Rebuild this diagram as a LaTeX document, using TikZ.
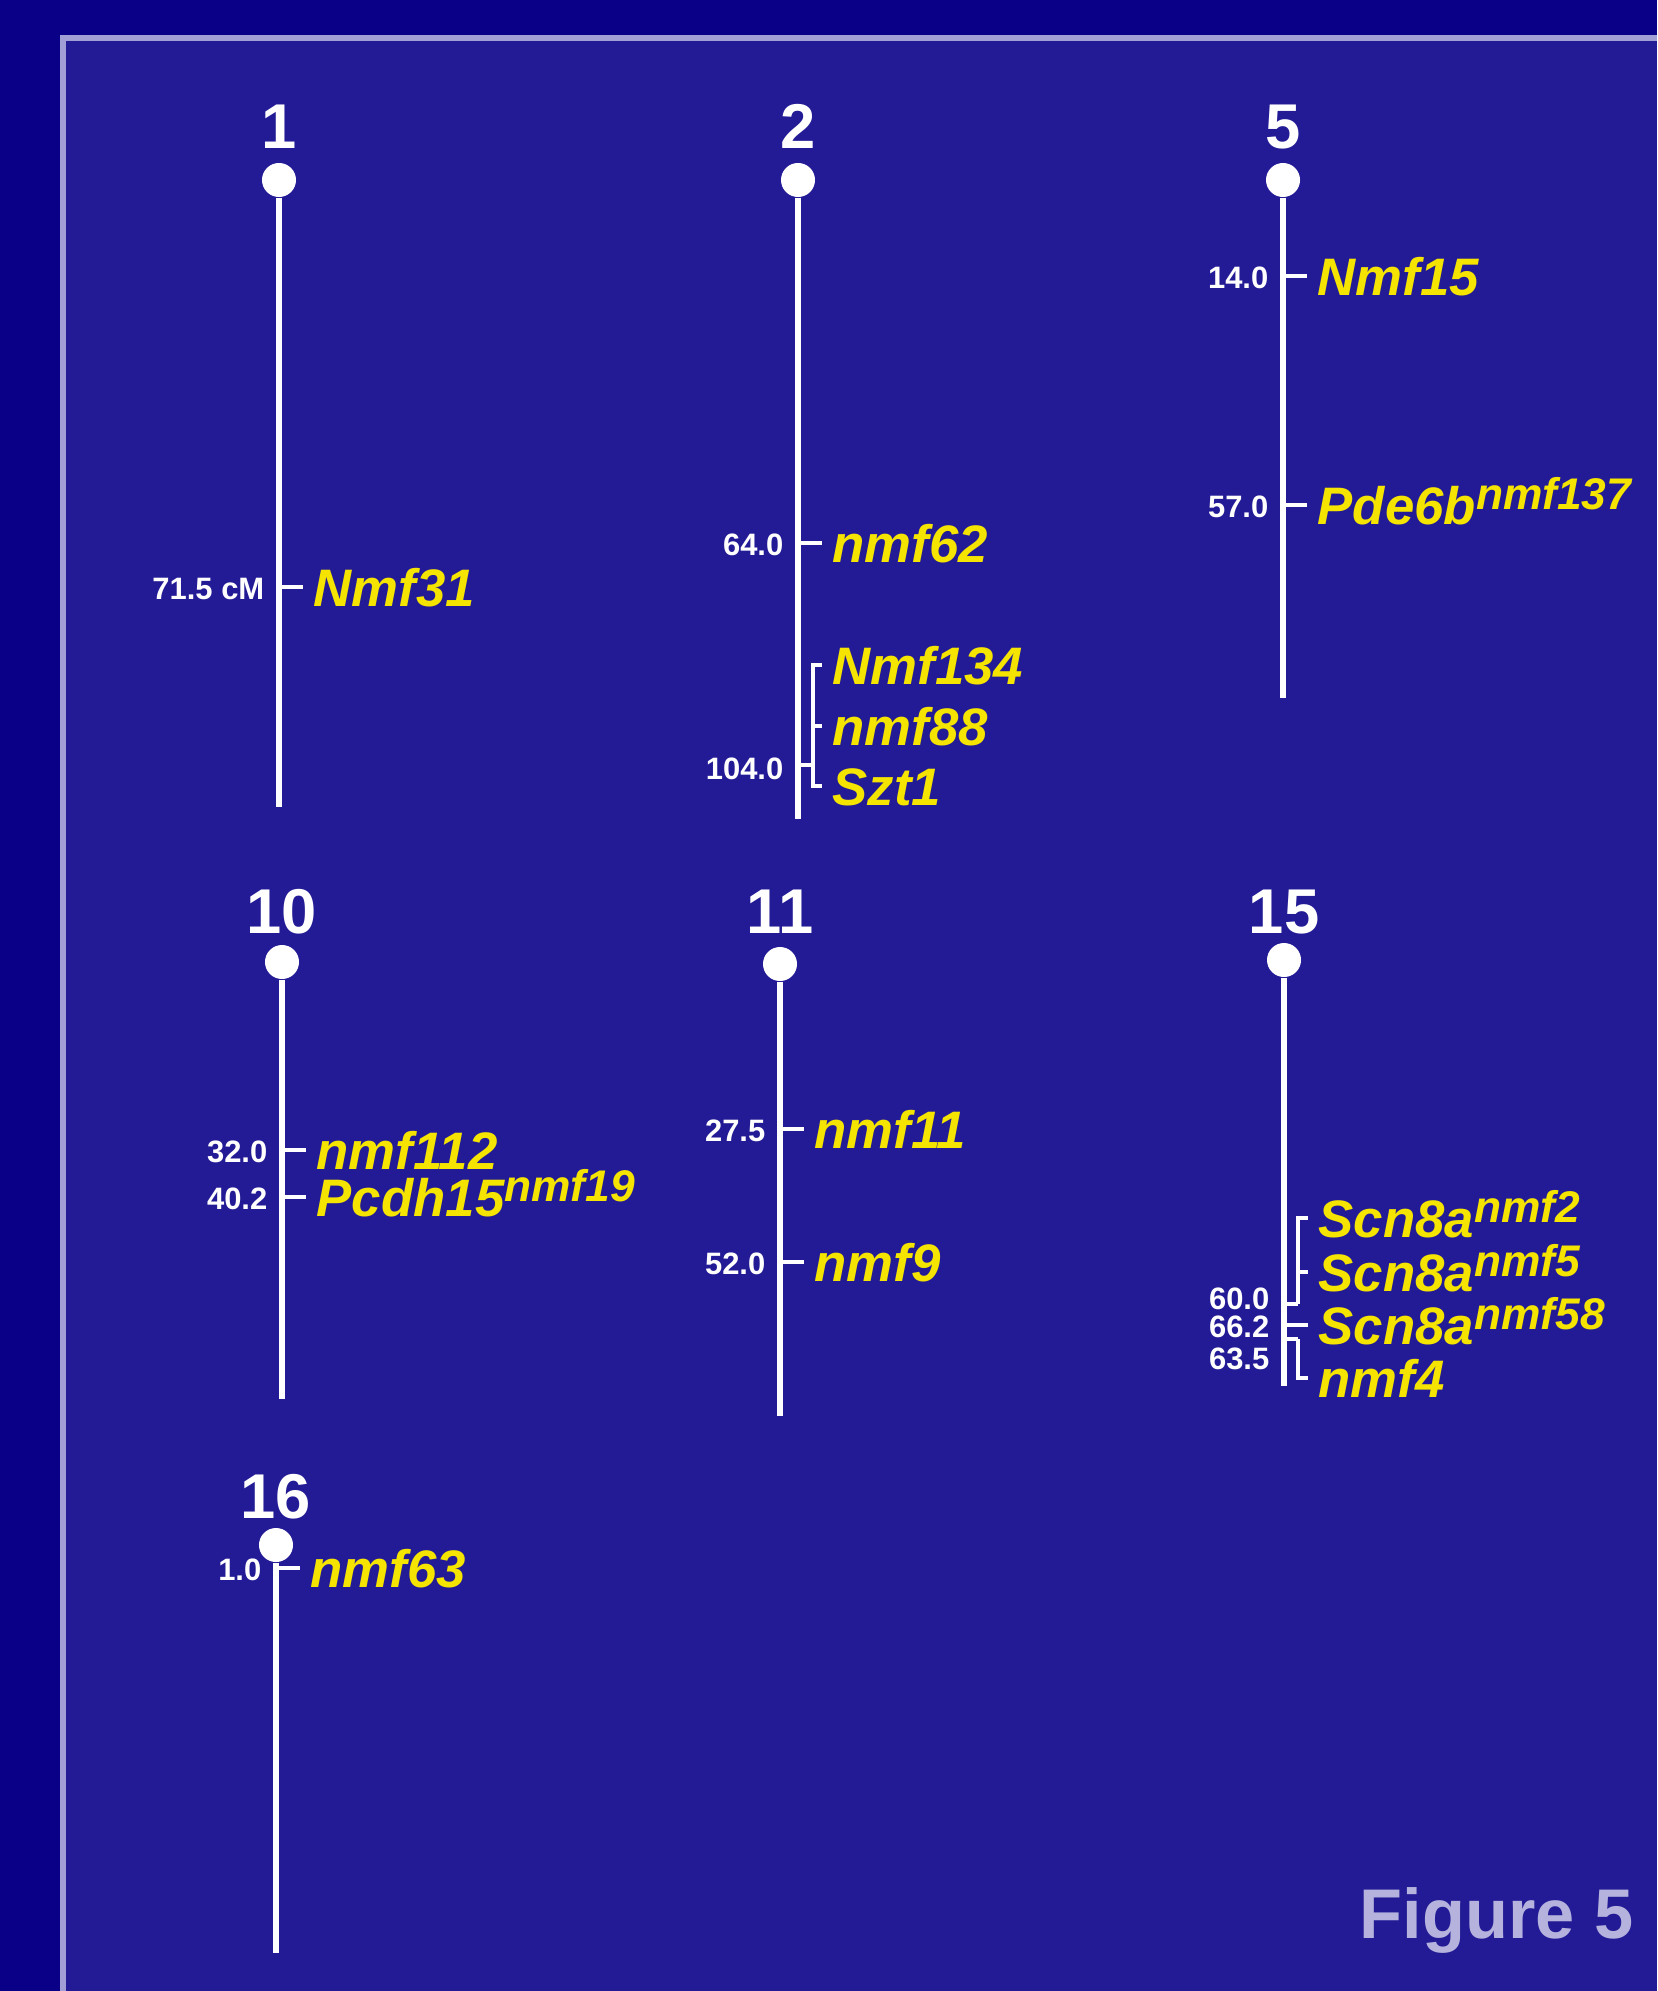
\documentclass[tikz,border=0pt]{standalone}
\usepackage{fontspec}
\setmainfont{Liberation Sans}
\usepackage{tikz}
\usetikzlibrary{calc}
\definecolor{MapNavy}{HTML}{0A0088}
\definecolor{MapPanel}{HTML}{231B95}
\definecolor{MapFrame}{HTML}{A29ED6}
\definecolor{MapYellow}{HTML}{F5E400}
\definecolor{MapLilac}{HTML}{B5B2DD}
\newcommand{\allele}[1]{\raisebox{0.145cm}{\fontsize{12.6}{14}\selectfont #1}}

\begin{document}
\begin{tikzpicture}[x=0.01cm,y=-0.01cm,
		chrline/.style={white,line width=1.85pt},
		cen/.style={circle,fill=white,inner sep=0pt,minimum size=0.34cm},
		chrnum/.style={anchor=base,inner sep=0pt,text=white,font=\fontsize{18}{21}\selectfont\bfseries},
		tick/.style={white,line width=1.1pt},
		brk/.style={white,line width=0.95pt},
		gene/.style={anchor=base west,inner xsep=0.1cm,inner ysep=0pt,text=MapYellow,font=\fontsize{15}{17}\selectfont\bfseries\itshape},
		cmpos/.style={anchor=base east,inner xsep=0.14cm,inner ysep=0pt,text=white,font=\fontsize{8.8}{10}\selectfont\bfseries}]
		\useasboundingbox[fill=MapNavy] (0,0) rectangle (1657,1991);
		\fill[MapPanel] (63,38) rectangle (1657,1991);
		\draw[MapFrame,line width=1.7pt] (63,1991) -- (63,38) -- (1657,38);

		\foreach \c/\x/\ynum/\ytop/\ybot in {1/279/149/180/807, 2/798/149/180/819, 5/1283/149/180/698,
			10/282/933/962/1399, 11/780/933/964/1416, 15/1284/933/960/1386, 16/276/1518/1545/1953}
		{
			\coordinate (e\c) at (\x,\ybot);
			\node[cen] (c\c) at (\x,\ytop) {};
			\node[chrnum] (n\c) at (\x,\ynum) {\c};
			\draw[chrline] (c\c) -- (e\c);
		}

		\foreach \id/\x/\y/\pos/\gene in {a/279/587/{71.5 cM}/{Nmf31}, b/798/543/{64.0}/{nmf62},
			c/1283/276/{14.0}/{Nmf15}, d/1283/505/{57.0}/{Pde6b\allele{nmf137}},
			e/282/1150/{32.0}/{nmf112}, f/282/1197/{40.2}/{Pcdh15\allele{nmf19}},
			g/780/1129/{27.5}/{nmf11}, h/780/1262/{52.0}/{nmf9},
			i/1284/1325/{66.2}/{Scn8a\allele{nmf58}}, j/276/1568/{1.0}/{nmf63}}
		{
			\coordinate (t\id) at (\x,\y);
			\node[gene] (g\id) at (\x+24,\y+19) {\gene};
			\node[cmpos] (p\id) at (\x,\y+12) {\pos};
			\draw[tick] (t\id) -- (t\id -| g\id.west);
		}

		\node[gene] (g134) at (822,684) {Nmf134};
		\node[gene] (g88) at (822,745) {nmf88};
		\node[gene] (gszt) at (822,805) {Szt1};
		\node[cmpos] (p104) at (798,779) {104.0};
		\coordinate (s2) at (798,765);
		\coordinate (k2a) at (813,665);
		\coordinate (k2b) at (813,726);
		\coordinate (k2c) at (813,786);
		\draw[tick] (s2) -- (s2 -| k2a);
		\draw[brk] (k2a -| g134.west) -- (k2a) -- (k2c) -- (k2c -| gszt.west);
		\draw[brk] (k2b) -- (k2b -| g88.west);

		\node[gene] (gn2) at (1308,1237) {Scn8a\allele{nmf2}};
		\node[gene] (gn5) at (1308,1291) {Scn8a\allele{nmf5}};
		\node[gene] (gn4) at (1308,1397) {nmf4};
		\node[cmpos] (p60) at (1284,1309) {60.0};
		\node[cmpos] (p63) at (1284,1369) {63.5};
		\coordinate (s15a) at (1284,1304);
		\coordinate (k15a) at (1298,1218);
		\coordinate (k15b) at (1298,1272);
		\coordinate (k15c) at (1298,1304);
		\draw[tick] (s15a) -- (k15c);
		\draw[brk] (k15c) -- (k15a) -- (k15a -| gn2.west);
		\draw[brk] (k15b) -- (k15b -| gn5.west);
		\coordinate (s15b) at (1284,1339);
		\coordinate (k15d) at (1298,1339);
		\coordinate (k15e) at (1298,1378);
		\draw[tick] (s15b) -- (k15d);
		\draw[brk] (k15d) -- (k15e) -- (k15e -| gn4.west);

		\node[anchor=base east,inner sep=0pt,text=MapLilac,font=\fontsize{20}{24}\selectfont\bfseries] (fig) at (1634,1938) {Figure 5};
	\end{tikzpicture}
\end{document}
